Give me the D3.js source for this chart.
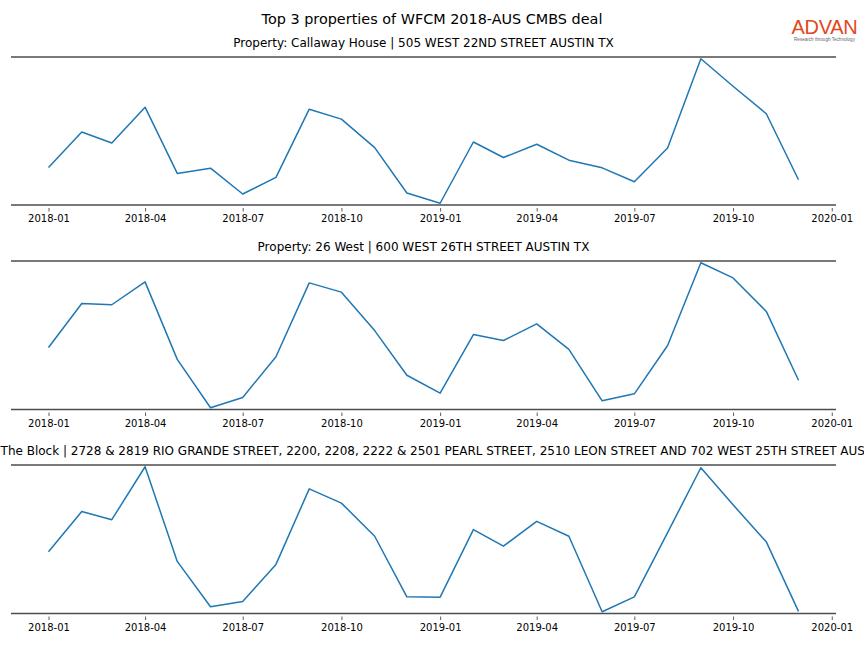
<!DOCTYPE html>
<html>
<head>
<meta charset="utf-8">
<script src="https://cdn.jsdelivr.net/npm/d3@7/dist/d3.min.js"></script>
<style>
  html, body { margin: 0; padding: 0; background: #fff; }
  svg { display: block; font-family: "DejaVu Sans", sans-serif; }
</style>
</head>
<body>
<svg id="chart" width="864" height="648"></svg>
<script>
// ---- data ----
const months = ["2018-01","2018-02","2018-03","2018-04","2018-05","2018-06","2018-07","2018-08","2018-09","2018-10","2018-11","2018-12",
                "2019-01","2019-02","2019-03","2019-04","2019-05","2019-06","2019-07","2019-08","2019-09","2019-10","2019-11","2019-12"];
const tickLabels = ["2018-01","2018-04","2018-07","2018-10","2019-01","2019-04","2019-07","2019-10","2020-01"];
const chartTitle = "Top 3 properties of WFCM 2018-AUS CMBS deal";
const propertyTitles = [
  "Property: Callaway House | 505 WEST 22ND STREET AUSTIN TX",
  "Property: 26 West | 600 WEST 26TH STREET AUSTIN TX",
  "Property: The Block | 2728 & 2819 RIO GRANDE STREET, 2200, 2208, 2222 & 2501 PEARL STREET, 2510 LEON STREET AND 702 WEST 25TH STREET AUSTIN TX"
];
const callawayHouse = [36.7, 72.3, 61.3, 97.3, 30.7, 36, 10, 26.7, 95.3, 85.3, 56.7, 11,
                       0.7, 62.3, 46.7, 60, 44, 36.3, 22.3, 56.3, 146, 118.3, 90.7, 24.3];
const west26 = [61.3, 105.6, 104.3, 127.3, 49.3, 0.6, 11, 52, 126.3, 117, 78.3, 33.3,
                15.3, 74.3, 68.3, 85, 59.3, 7.6, 14.6, 63.3, 146.6, 131.3, 97.6, 28.3];
const theBlock = [61, 101.6, 93.3, 146.6, 51.3, 5.6, 11, 48.3, 124.3, 110, 76.6, 15.6,
                  15.3, 83.3, 66.6, 91.6, 76.6, 0.6, 15.6, 80.3, 145.6, 108.3, 71, 1];
const seriesList = [callawayHouse, west26, theBlock];

// ---- layout ----
const svg = d3.select("#chart");
const parse = d3.timeParse("%Y-%m");
const dates = months.map(parse);
const left = 11, right = 836;
const panels = [ {top: 57, bottom: 205}, {top: 261, bottom: 409.5}, {top: 465, bottom: 613.5} ];

// x domain with 5% margins like matplotlib
const ext = d3.extent(dates);
const span = ext[1] - ext[0];
const x = d3.scaleTime()
  .domain([new Date(+ext[0] - span * 0.05), new Date(+ext[1] + span * 0.05)])
  .range([left, right]);

svg.append("text")
  .attr("x", 432).attr("y", 24)
  .attr("text-anchor", "middle")
  .attr("font-size", 14.4)
  .attr("fill", "#000")
  .text(chartTitle);

// logo
const logo = svg.append("g");
logo.append("text")
  .attr("x", 824.5).attr("y", 34)
  .attr("text-anchor", "middle")
  .attr("font-family", "Liberation Sans, Arial, sans-serif")
  .attr("font-size", 20)
  .attr("fill", "#e2471d")
  .attr("letter-spacing", -0.3)
  .text("ADVAN");
logo.append("text")
  .attr("x", 824.5).attr("y", 41)
  .attr("text-anchor", "middle")
  .attr("font-family", "Liberation Sans, Arial, sans-serif")
  .attr("font-size", 4.6)
  .attr("fill", "#666")
  .text("Research through Technology");

seriesList.forEach((vals, i) => {
  const p = panels[i];
  const e = d3.extent(vals);
  const pad = (e[1] - e[0]) * 0.012;
  const y = d3.scaleLinear().domain([e[0] - pad, e[1] + pad]).range([p.bottom, p.top]);
  const g = svg.append("g");

  g.append("text")
    .attr("x", (left + right) / 2).attr("y", p.top - 10)
    .attr("text-anchor", "middle")
    .attr("font-size", 12)
    .attr("fill", "#000")
    .text(propertyTitles[i]);

  // spines
  g.append("line").attr("x1", left).attr("x2", right).attr("y1", p.top).attr("y2", p.top)
    .attr("stroke", "#4d4d4d").attr("stroke-width", 1.6);
  g.append("line").attr("x1", left).attr("x2", right).attr("y1", p.bottom).attr("y2", p.bottom)
    .attr("stroke", "#4d4d4d").attr("stroke-width", 1.6);

  // x axis
  const tickDates = tickLabels.map(parse);
  const axis = d3.axisBottom(x)
    .tickValues(tickDates)
    .tickFormat(d3.timeFormat("%Y-%m"))
    .tickSize(3.5)
    .tickPadding(3.5)
    .tickSizeOuter(0);
  const ag = g.append("g").attr("transform", `translate(0,${p.bottom + 3})`).call(axis);
  ag.select(".domain").remove();
  ag.selectAll(".tick line").attr("stroke", "#333").attr("stroke-width", 0.8);
  ag.selectAll(".tick text").attr("font-size", 10).attr("font-family", "DejaVu Sans, sans-serif").attr("fill", "#000");

  const line = d3.line().x((d, j) => x(dates[j])).y(d => y(d));
  g.append("path")
    .datum(vals)
    .attr("d", line)
    .attr("fill", "none")
    .attr("stroke", "#1f77b4")
    .attr("stroke-width", 1.5)
    .attr("stroke-linejoin", "round");
});
</script>
</body>
</html>
